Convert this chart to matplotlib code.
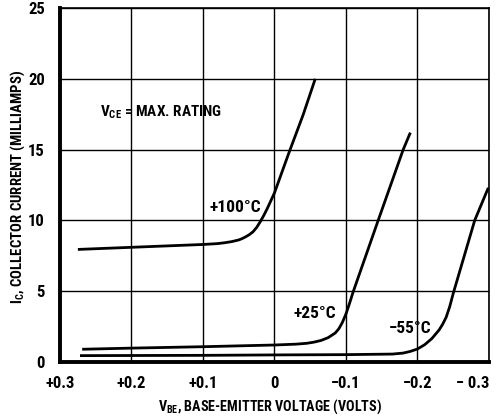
import matplotlib
matplotlib.use("Agg")
import matplotlib.pyplot as plt

FONT = 'Roboto Condensed'
plt.rcParams['font.family'] = [FONT, 'DejaVu Sans']
plt.rcParams['mathtext.fontset'] = 'custom'
plt.rcParams['mathtext.rm'] = FONT + ':bold'
plt.rcParams['mathtext.bf'] = FONT + ':bold'
plt.rcParams['mathtext.it'] = FONT + ':bold'

# Data (V_BE in volts, I_C in mA)
v_100 = [0.275, 0.20, 0.15, 0.10, 0.08, 0.07, 0.06, 0.05, 0.045, 0.04, 0.035, 0.03, 0.025, 0.02, 0.015, 0.01, 0.005, 0.00, -0.01, -0.02, -0.04, -0.057]
i_100 = [7.95, 8.10, 8.20, 8.30, 8.36, 8.42, 8.50, 8.62, 8.72, 8.85, 9.00, 9.20, 9.50, 9.90, 10.35, 10.85, 11.40, 11.95, 13.35, 14.75, 17.45, 20.0]

v_25 = [0.269, 0.20, 0.10, 0.00, -0.03, -0.045, -0.055, -0.065, -0.075, -0.085, -0.09, -0.095, -0.10, -0.105, -0.11, -0.145, -0.18, -0.19]
i_25 = [0.90, 0.98, 1.08, 1.20, 1.26, 1.32, 1.40, 1.52, 1.72, 2.05, 2.35, 2.80, 3.40, 4.15, 4.95, 10.0, 15.0, 16.2]

v_m55 = [0.272, 0.10, 0.00, -0.10, -0.165, -0.18, -0.19, -0.20, -0.21, -0.22, -0.23, -0.235, -0.24, -0.245, -0.25, -0.28, -0.299]
i_m55 = [0.45, 0.47, 0.50, 0.52, 0.56, 0.63, 0.75, 0.92, 1.22, 1.65, 2.25, 2.65, 3.15, 3.90, 4.85, 10.0, 12.3]

x_ticks = [0.3, 0.2, 0.1, 0.0, -0.1, -0.2, -0.3]
x_tick_labels = ['+0.3', '+0.2', '+0.1', '0', '\u22120.1', '\u22120.2', '\u2212 0.3']
y_ticks = [0, 5, 10, 15, 20, 25]
y_tick_labels = ['0', '5', '10', '15', '20', '25']

fig = plt.figure(figsize=(5.02, 4.2), dpi=100)
ax = fig.add_axes([60/502, 1-362/420, (489-60)/502, (362-8)/420])

ax.set_xlim(0.3, -0.3)
ax.set_ylim(0, 25)
ax.set_xticks(x_ticks)
ax.set_xticklabels(x_tick_labels)
ax.set_yticks(y_ticks)
ax.set_yticklabels(y_tick_labels)
ax.grid(True, color='black', linewidth=1.0)
ax.set_axisbelow(True)
ax.tick_params(length=0, labelsize=12)
ax.tick_params(axis='x', pad=10)
ax.tick_params(axis='y', pad=11)
for lab in ax.get_xticklabels() + ax.get_yticklabels():
    lab.set_fontweight('bold')
ax.get_xticklabels()[-1].set_horizontalalignment('right')

for s in ['left', 'bottom']:
    ax.spines[s].set_linewidth(2.8)
for s in ['top', 'right']:
    ax.spines[s].set_linewidth(1.2)

lw = 2.0
ax.plot(v_100, i_100, color='black', lw=lw, solid_capstyle='butt', solid_joinstyle='round')
ax.plot(v_25, i_25, color='black', lw=lw, solid_capstyle='butt', solid_joinstyle='round')
ax.plot(v_m55, i_m55, color='black', lw=lw, solid_capstyle='butt', solid_joinstyle='round')

ax.text(0.0545, 10.9, '+100\u00b0C', ha='center', va='center', fontsize=12.5, fontweight='bold')
ax.text(-0.056, 3.4, '+25\u00b0C', ha='center', va='center', fontsize=12.5, fontweight='bold')
ax.text(-0.19, 2.4, '\u221255\u00b0C', ha='center', va='center', fontsize=12.5, fontweight='bold')
ax.text(0.159, 17.6, r'$\mathrm{V_{CE}}$ = MAX. RATING', ha='center', va='center', fontsize=11, fontweight='bold')

ax.set_xlabel(r'$\mathrm{V_{BE}}$, BASE-EMITTER VOLTAGE (VOLTS)', fontsize=10.2, fontweight='bold', va='center')
ax.set_ylabel(r'$\mathrm{I_{C}}$, COLLECTOR CURRENT (MILLIAMPS)', fontsize=10.6, fontweight='bold', va='center')
ax.xaxis.set_label_coords((270 - 60) / 429, (362 - 407) / 354)
ax.yaxis.set_label_coords((18 - 60) / 429, (362 - 187) / 354)

fig.savefig('out.png', dpi=100)
